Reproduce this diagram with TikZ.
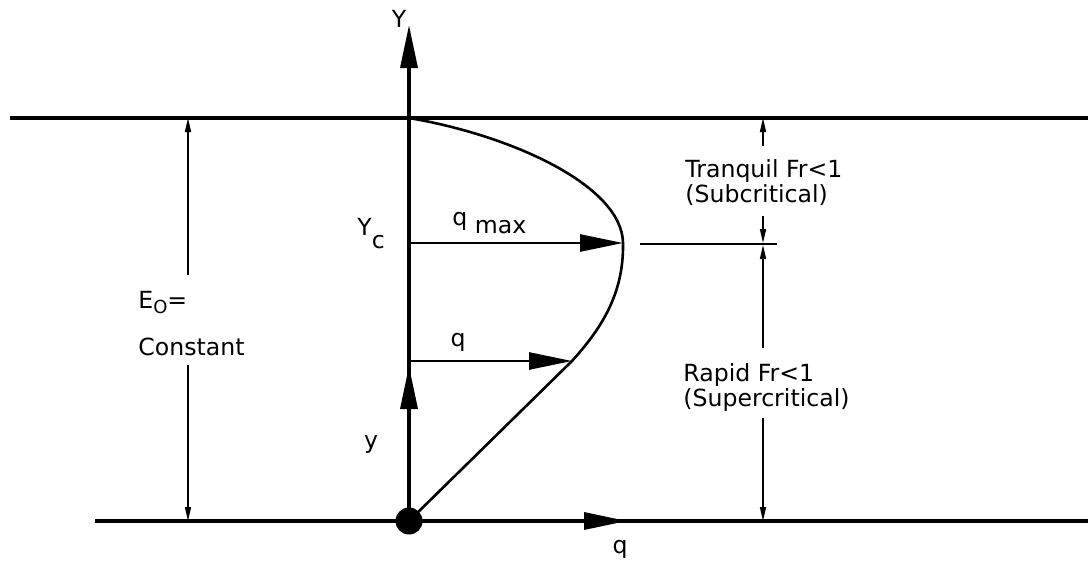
\documentclass[tikz,border=0pt]{standalone}
\usepackage{fontspec}
\setmainfont{DejaVu Sans}
\usetikzlibrary{arrows.meta}

\begin{document}
\begin{tikzpicture}[x=0.5pt, y=-0.5pt,
	every node/.style={font=\fontsize{11.8}{12.5}\selectfont, inner sep=0pt},
	heavy line/.style={line width=1.7pt},
	flow line/.style={line width=1.3pt},
	dim line/.style={line width=0.75pt, -{Triangle[length=7pt, width=3pt]}},
	big tip/.style={-{Triangle[length=21.5pt, width=8.5pt]}}]
	\useasboundingbox (0,0) rectangle (1088,562);
	% channel surface and bed
	\coordinate (surfL) at (10,118);
	\coordinate (surfR) at (1088,118);
	\coordinate (bedL) at (95,521);
	\coordinate (bedR) at (1088,521);
	\draw[heavy line] (surfL) -- (surfR);
	\draw[heavy line] (bedL) -- (bedR);
	% axes
	\node[circle, fill, minimum size=13.5pt] (O) at (409,521) {};
	\coordinate (Ytop) at (409,25);
	\coordinate (yup) at (409,366);
	\coordinate (qend) at (627,521);
	\draw[heavy line, big tip] (O.center) -- (Ytop);
	\draw[heavy line, big tip] (O.center) -- (yup);
	\draw[heavy line, big tip] (O.center) -- (qend);
	% discharge curve
	\coordinate (crest) at (409,118);
	\coordinate (qmaxpt) at (623,243);
	\coordinate (qpt) at (572,361);
	\coordinate (yc) at (409,243);
	\coordinate (yq) at (409,361);
	\draw[flow line] (crest) .. controls (510,135) and (622,185) .. (qmaxpt)
		.. controls (624,295) and (600,330) .. (qpt) -- (O.center);
	\draw[flow line, big tip] (yc) -- (qmaxpt);
	\draw[flow line, big tip] (yq) -- (qpt);
	% labels
	\node (Ylab) at (399,19) {Y};
	\node[anchor=base west] (Yclab) at (357,235) {Y\raisebox{-6.5pt}{c}};
	\node[anchor=base west] (qmaxlab) at (452,225) {q \raisebox{-4pt}{max}};
	\node (qlab) at (458,342) {q};
	\node (ylab) at (371,444) {y};
	\node (qaxlab) at (620,549) {q};
	\node[anchor=base west] (Eolab) at (138,308) {E\raisebox{-2.5pt}{\fontsize{9}{9}\selectfont O}=};
	\node[anchor=base west] (constlab) at (138,355) {Constant};
	\node[anchor=north west, align=left] (tranq) at (685,159) {Tranquil Fr<1\\(Subcritical)};
	\node[anchor=north west, align=left] (rapid) at (683,363) {Rapid Fr<1\\(Supercritical)};
	% dimension lines
	\coordinate (critL) at (640,244);
	\coordinate (critR) at (777,244);
	\draw[line width=0.75pt] (critL) -- (critR);
	\foreach \name/\x/\a/\b in {ea/188/275/118, eb/188/365/521,
		ta/763/146/118, tb/763/216/243, ra/763/348/245, rb/763/418/521} {
		\coordinate (\name from) at (\x,\a);
		\coordinate (\name to) at (\x,\b);
		\draw[dim line] (\name from) -- (\name to);
	}
\end{tikzpicture}
\end{document}
